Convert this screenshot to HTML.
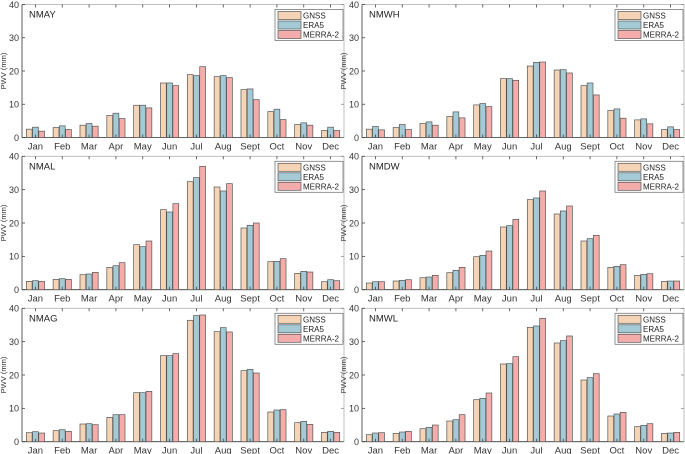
<!DOCTYPE html>
<html><head><meta charset="utf-8"><style>
body{margin:0;background:#fff;}
svg{display:block;font-family:"Liberation Sans",Arial,sans-serif;}
</style></head><body>
<svg id="c" width="685" height="454" viewBox="0 0 685 454"></svg>
<script>
const months=["Jan","Feb","Mar","Apr","May","Jun","Jul","Aug","Sept","Oct","Nov","Dec"];
const yTicks=[0,10,20,30,40];
const seriesNames=["GNSS","ERA5","MERRA-2"];
const stations=["NMAY","NMWH","NMAL","NMDW","NMAG","NMWL"];
const nmayGNSS=[2.5,3,3.7,6.6,9.7,16.4,18.9,18.3,14.4,7.8,3.9,2.1];
const nmayERA5=[3.1,3.5,4.2,7.3,9.7,16.4,18.6,18.6,14.6,8.5,4.4,3.1];
const nmayMERRA=[1.9,2.4,3.4,5.7,8.9,15.6,21.3,18,11.4,5.4,3.7,2.1];
const nmwhGNSS=[2.5,3,4.2,6.3,9.8,17.7,21.5,20.3,15.6,8.1,5.3,2.4];
const nmwhERA5=[3.3,3.9,4.7,7.7,10.2,17.7,22.6,20.4,16.4,8.6,5.6,3.2];
const nmwhMERRA=[2.3,2.4,3.7,5.9,9.3,17.2,22.7,19.4,12.8,5.8,4.1,2.4];
const nmalGNSS=[2.5,3.1,4.5,6.7,13.5,24,32.4,30.8,18.5,8.4,4.9,2.4];
const nmalERA5=[2.7,3.3,4.7,7.2,12.9,23.3,33.6,29.6,19.3,8.5,5.5,3];
const nmalMERRA=[2.5,3.1,5.2,8.1,14.6,25.8,37,31.8,20,9.3,5.3,2.7];
const nmdwGNSS=[2,2.6,3.6,5.1,9.9,18.8,27,22.7,14.6,6.7,4.3,2.5];
const nmdwERA5=[2.4,2.8,3.8,5.8,10.3,19.2,27.5,23.6,15.3,7,4.6,2.6];
const nmdwMERRA=[2.4,3,4.3,6.7,11.6,21.1,29.6,25.1,16.3,7.5,4.8,2.6];
const nmagGNSS=[2.7,3.3,5.3,7.3,14.7,25.8,36.4,33,21.3,8.9,5.7,2.8];
const nmagERA5=[3,3.6,5.4,8.1,14.7,25.8,37.8,34.2,21.7,9.5,6.1,3.1];
const nmagMERRA=[2.6,3.1,5.1,8.1,15.1,26.4,38,32.9,20.6,9.6,5.2,2.8];
const nmwlGNSS=[2.1,2.5,3.9,6.2,12.6,23.3,34.3,29.6,18.5,7.7,4.5,2.5];
const nmwlERA5=[2.6,2.9,4.3,6.6,13,23.4,34.7,30.3,19.2,8.3,4.9,2.6];
const nmwlMERRA=[2.7,3.1,5,8.1,14.6,25.5,37,31.7,20.4,8.8,5.4,2.8];

const panelData=[[nmayGNSS,nmayERA5,nmayMERRA],[nmwhGNSS,nmwhERA5,nmwhMERRA],[nmalGNSS,nmalERA5,nmalMERRA],[nmdwGNSS,nmdwERA5,nmdwMERRA],[nmagGNSS,nmagERA5,nmagMERRA],[nmwlGNSS,nmwlERA5,nmwlMERRA]];
const colors=["#f5d3b5","#a4cbd5","#f4adab"];
const NS="http://www.w3.org/2000/svg";
const svg=document.getElementById("c");
function mk(tag,attrs,parent,text){const e=document.createElementNS(NS,tag);for(const k in attrs)e.setAttribute(k,attrs[k]);if(text!==undefined)e.textContent=text;parent.appendChild(e);return e;}
const lefts=[22,362],widths=[322,322];
const tops=[4.5,156.3,308.3],bots=[137.5,289.7,441.7];
for(let p=0;p<6;p++){
  const col=p%2,row=Math.floor(p/2);
  const L=lefts[col],W=widths[col],T=tops[row],B=bots[row];
  const g=mk("g",{},svg);
  
  
  const y=v=>B-(v/40)*(B-T);
  const bw=W/12;
  const x=i=>L+bw*(i+0.5);
  mk("rect",{x:L,y:T,width:W,height:B-T,fill:"none",stroke:"#b0b0b0","stroke-width":0.8},g);
  mk("line",{x1:L,y1:T,x2:L,y2:B,stroke:"#444","stroke-width":0.8},g);
  mk("line",{x1:L,y1:B,x2:L+W,y2:B,stroke:"#444","stroke-width":0.8},g);
  yTicks.forEach(t=>{
    mk("line",{x1:L,y1:y(t),x2:L+3,y2:y(t),stroke:"#444","stroke-width":0.8},g);
    mk("line",{x1:L+W,y1:y(t),x2:L+W-3,y2:y(t),stroke:"#888","stroke-width":0.8},g);
    const tl=mk("text",{x:L-3,y:y(t)+3.3,"font-size":9,"text-anchor":"end",fill:"#333"},g,String(t));
    
    
  });
  const yl=mk("text",{x:0,y:0,"font-size":7.5,"text-anchor":"middle",fill:"#333",transform:`translate(${L-16},${(T+B)/2}) rotate(-90)`},g,"PWV (mm)");
  
  
  for(let s=0;s<3;s++){
    const arr=panelData[p][s];
    arr.forEach((v,i)=>{
      const cx=x(i)+(s-1)*6.2;
      const r=mk("rect",{x:cx-2.9,y:y(v),width:5.8,height:B-y(v),fill:colors[s],stroke:"#555","stroke-width":0.7},g);
      
      
    });
  }
  months.forEach((m,i)=>{
    mk("line",{x1:x(i),y1:B,x2:x(i),y2:B-3,stroke:"#444","stroke-width":0.8},g);
    mk("line",{x1:x(i),y1:T,x2:x(i),y2:T+3,stroke:"#444","stroke-width":0.8},g);
    const ml=mk("text",{x:x(i),y:B+12,"font-size":9.5,"text-anchor":"middle",fill:"#333"},g,m);
    
    
  });
  const tt=mk("text",{x:L+7,y:T+13,"font-size":9.5,fill:"#222"},g,stations[p]);
  
  
  const lx=L+W-69,ly=T+5;
  const lg=mk("g",{},g);
  
  
  mk("rect",{x:lx,y:ly,width:68,height:31,fill:"#fff",stroke:"#777","stroke-width":0.8},lg);
  seriesNames.forEach((n,s)=>{
    const ey=ly+2+s*9.5;
    const e=mk("g",{},lg);
    
    
    mk("rect",{x:lx+3,y:ey,width:23,height:8,fill:colors[s],stroke:"#555","stroke-width":0.7},e);
    mk("text",{x:lx+28,y:ey+7,"font-size":8,fill:"#222"},e,n);
  });
}
</script>
</body></html>
